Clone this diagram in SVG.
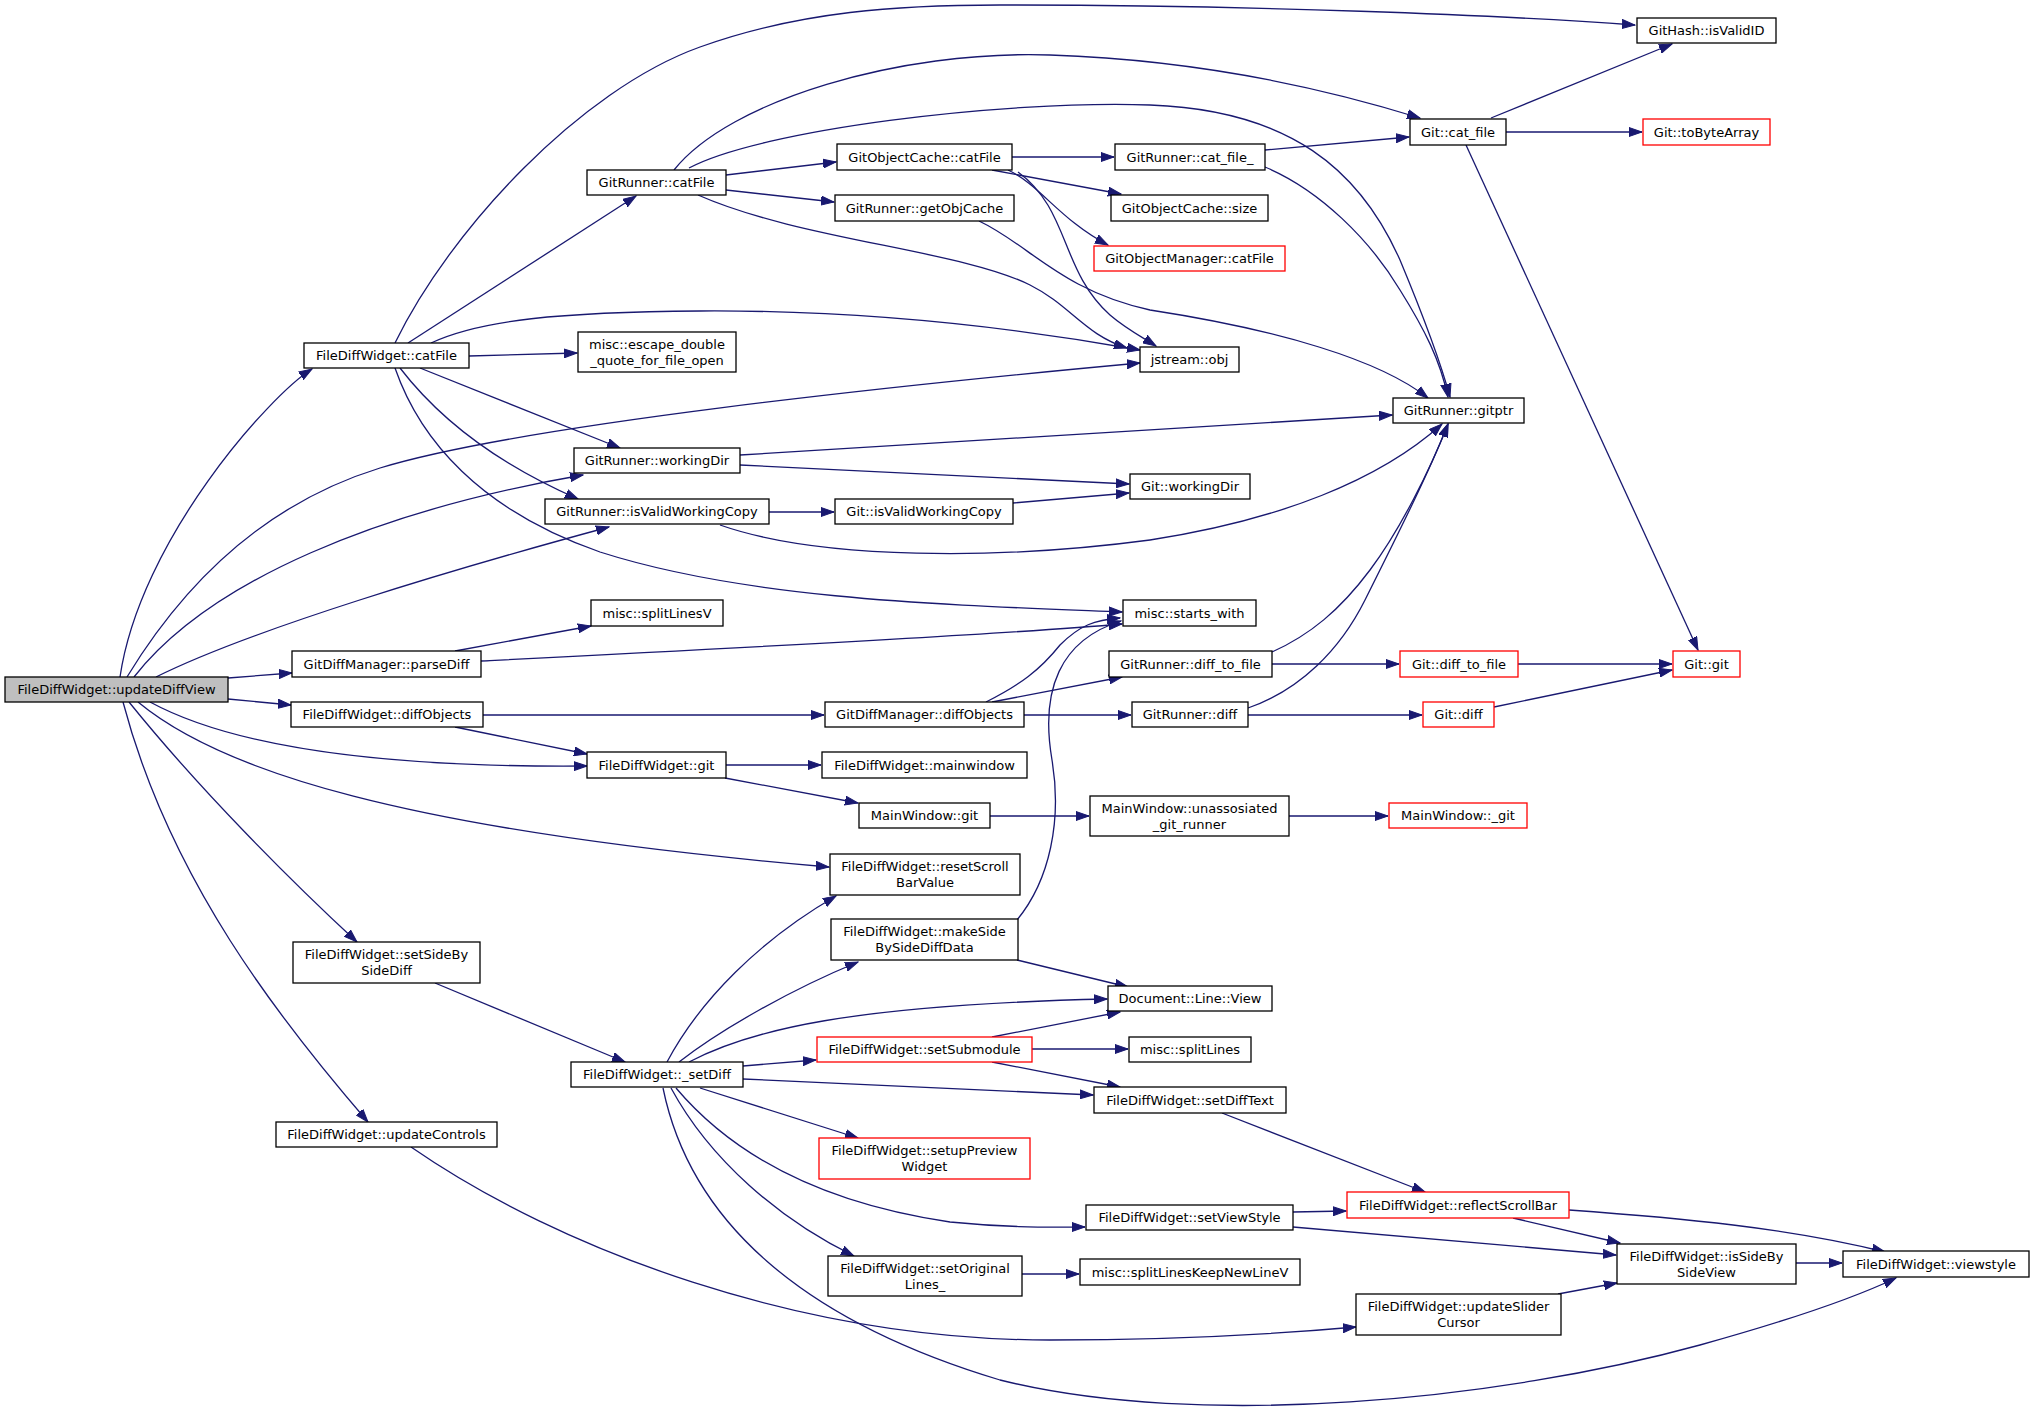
<svg xmlns="http://www.w3.org/2000/svg" width="2035" height="1415" viewBox="0 0 2035 1415">
<style>
.n rect{fill:#fff;stroke:#000;stroke-width:1.3}
.n.red rect{stroke:#f00}
.n.root rect{fill:#bfbfbf}
.n text{font-family:"DejaVu Sans","Liberation Sans",Arial,sans-serif;font-size:13px;text-anchor:middle;fill:#000}
#edges path{fill:none;stroke:#191970;stroke-width:1.3;marker-end:url(#arr)}
</style>
<defs>
<marker id="arr" markerUnits="userSpaceOnUse" markerWidth="14" markerHeight="10" viewBox="0 0 14 10" refX="13" refY="5" orient="auto">
<path d="M0,0.5 L13,5 L0,9.5 z" fill="#191970" stroke="#191970" stroke-width="1"/>
</marker>
</defs>
<rect width="2035" height="1415" fill="#fff"/>
<g id="edges">
<path d="M120,677 C140,540 270,395 312,369"/>
<path d="M127,677 C180,590 260,505 380,468 C520,425 900,385 1140,363"/>
<path d="M134,677 C210,580 380,510 583,475"/>
<path d="M156,677 C250,630 450,570 609,527"/>
<path d="M228,678 L292,673"/>
<path d="M228,699 L291,705"/>
<path d="M150,702 C220,740 350,768 587,766"/>
<path d="M138,702 C220,770 400,830 829,867"/>
<path d="M129,702 C200,790 290,880 357,942"/>
<path d="M123,702 C170,880 280,1020 368,1122"/>
<path d="M411,1147 C560,1250 800,1340 1050,1340 C1200,1340 1300,1332 1356,1327"/>
<path d="M395,343 C450,230 580,90 700,47 C800,11 900,5 1000,5 C1250,5 1500,15 1635,25"/>
<path d="M408,343 L636,196"/>
<path d="M431,343 C480,320 560,312 700,311 C850,310 1000,325 1140,350"/>
<path d="M469,356 L577,353"/>
<path d="M420,368 L620,448"/>
<path d="M400,368 C440,420 500,465 578,499"/>
<path d="M395,368 C420,440 480,510 600,552 C750,600 950,605 1122,612"/>
<path d="M674,170 C730,100 900,50 1050,55 C1200,60 1330,90 1420,118"/>
<path d="M689,168 C760,130 1000,100 1150,105 C1290,110 1360,170 1400,260 C1425,320 1440,360 1450,397"/>
<path d="M726,175 L836,162"/>
<path d="M726,190 L834,202"/>
<path d="M698,195 C800,240 960,250 1030,285 C1070,305 1085,335 1127,348"/>
<path d="M1012,157 L1114,157"/>
<path d="M992,170 L1121,194"/>
<path d="M1008,170 C1040,185 1060,220 1108,245"/>
<path d="M1018,172 C1070,210 1060,270 1110,315 C1125,328 1140,336 1156,346"/>
<path d="M979,221 C1030,245 1060,290 1150,310 C1280,330 1380,360 1428,398"/>
<path d="M1265,150 L1409,137"/>
<path d="M1265,167 C1320,190 1370,240 1400,290 C1425,330 1440,360 1448,397"/>
<path d="M1491,118 L1672,44"/>
<path d="M1506,132 L1642,132"/>
<path d="M1466,145 L1698,650"/>
<path d="M740,455 L1392,415"/>
<path d="M740,465 L1129,484"/>
<path d="M769,512 L834,512"/>
<path d="M720,525 C820,560 1000,560 1150,540 C1280,520 1380,480 1442,424"/>
<path d="M1013,503 L1129,493"/>
<path d="M455,651 L591,626"/>
<path d="M481,661 C700,650 1000,635 1122,624"/>
<path d="M483,715 L824,715"/>
<path d="M455,727 L587,754"/>
<path d="M986,702 C1020,685 1040,670 1060,645 C1080,625 1095,620 1120,618"/>
<path d="M992,702 L1122,677"/>
<path d="M1024,715 L1131,715"/>
<path d="M1272,664 L1399,664"/>
<path d="M1272,652 C1310,635 1340,610 1370,570 C1400,530 1430,470 1448,424"/>
<path d="M1248,715 L1422,715"/>
<path d="M1248,708 C1300,690 1340,650 1365,600 C1400,530 1430,470 1448,424"/>
<path d="M1518,664 L1672,664"/>
<path d="M1494,707 L1672,670"/>
<path d="M726,765 L821,765"/>
<path d="M725,778 L858,803"/>
<path d="M990,816 L1089,816"/>
<path d="M1289,816 L1388,816"/>
<path d="M435,983 L625,1062"/>
<path d="M667,1062 C700,1000 760,940 836,896"/>
<path d="M679,1062 C720,1030 790,990 858,962"/>
<path d="M689,1062 C750,1030 850,1005 1107,999"/>
<path d="M743,1066 L816,1060"/>
<path d="M743,1079 L1093,1095"/>
<path d="M700,1088 L858,1138"/>
<path d="M676,1088 C720,1140 800,1200 950,1222 C1010,1228 1050,1227 1085,1227"/>
<path d="M671,1088 C710,1160 780,1220 854,1256"/>
<path d="M663,1088 C690,1220 800,1320 1000,1380 C1200,1430 1500,1400 1700,1345 C1790,1320 1850,1300 1896,1278"/>
<path d="M1017,960 L1128,987"/>
<path d="M1017,920 C1050,880 1062,820 1052,760 C1040,690 1060,640 1121,621"/>
<path d="M992,1037 L1120,1012"/>
<path d="M1032,1049 L1128,1049"/>
<path d="M992,1062 L1120,1087"/>
<path d="M1222,1113 L1425,1192"/>
<path d="M1293,1212 L1346,1211"/>
<path d="M1293,1227 L1616,1255"/>
<path d="M1022,1274 L1079,1274"/>
<path d="M1513,1218 L1620,1243"/>
<path d="M1569,1210 C1680,1218 1790,1228 1885,1252"/>
<path d="M1558,1294 L1617,1283"/>
<path d="M1796,1263 L1842,1263"/>
</g>
<g id="n_updateDiffView" class="n root"><rect x="5" y="677" width="223" height="25"/><text x="116.5" y="694">FileDiffWidget::updateDiffView</text></g>
<g id="n_fdw_catFile" class="n"><rect x="304" y="343" width="165" height="25"/><text x="386.5" y="360">FileDiffWidget::catFile</text></g>
<g id="n_gr_catFile" class="n"><rect x="587" y="170" width="139" height="25"/><text x="656.5" y="187">GitRunner::catFile</text></g>
<g id="n_escape" class="n"><rect x="578" y="332" width="158" height="40"/><text x="657" y="348.5">misc::escape_double</text><text x="657" y="364.5">_quote_for_file_open</text></g>
<g id="n_gr_workingDir" class="n"><rect x="574" y="448" width="166" height="25"/><text x="657" y="465">GitRunner::workingDir</text></g>
<g id="n_gr_isValid" class="n"><rect x="545" y="499" width="224" height="25"/><text x="657" y="516">GitRunner::isValidWorkingCopy</text></g>
<g id="n_splitLinesV" class="n"><rect x="591" y="600" width="132" height="26"/><text x="657" y="617.5">misc::splitLinesV</text></g>
<g id="n_parseDiff" class="n"><rect x="292" y="651" width="189" height="26"/><text x="386.5" y="668.5">GitDiffManager::parseDiff</text></g>
<g id="n_fdw_diffObjects" class="n"><rect x="291" y="702" width="192" height="25"/><text x="387" y="719">FileDiffWidget::diffObjects</text></g>
<g id="n_fdw_git" class="n"><rect x="587" y="752" width="139" height="26"/><text x="656.5" y="769.5">FileDiffWidget::git</text></g>
<g id="n_resetScroll" class="n"><rect x="830" y="854" width="190" height="41"/><text x="925" y="871">FileDiffWidget::resetScroll</text><text x="925" y="887">BarValue</text></g>
<g id="n_setSideBy" class="n"><rect x="293" y="942" width="187" height="41"/><text x="386.5" y="959">FileDiffWidget::setSideBy</text><text x="386.5" y="975">SideDiff</text></g>
<g id="n_setDiff" class="n"><rect x="571" y="1062" width="172" height="25"/><text x="657" y="1079">FileDiffWidget::_setDiff</text></g>
<g id="n_updateControls" class="n"><rect x="276" y="1122" width="221" height="25"/><text x="386.5" y="1139">FileDiffWidget::updateControls</text></g>
<g id="n_oc_catFile" class="n"><rect x="837" y="144" width="175" height="26"/><text x="924.5" y="161.5">GitObjectCache::catFile</text></g>
<g id="n_getObjCache" class="n"><rect x="835" y="195" width="179" height="26"/><text x="924.5" y="212.5">GitRunner::getObjCache</text></g>
<g id="n_cat_file_" class="n"><rect x="1115" y="144" width="150" height="26"/><text x="1190" y="161.5">GitRunner::cat_file_</text></g>
<g id="n_oc_size" class="n"><rect x="1111" y="195" width="157" height="26"/><text x="1189.5" y="212.5">GitObjectCache::size</text></g>
<g id="n_om_catFile" class="n red"><rect x="1094" y="246" width="191" height="25"/><text x="1189.5" y="263">GitObjectManager::catFile</text></g>
<g id="n_jstream" class="n"><rect x="1140" y="347" width="99" height="25"/><text x="1189.5" y="364">jstream::obj</text></g>
<g id="n_isValidID" class="n"><rect x="1637" y="18" width="139" height="25"/><text x="1706.5" y="35">GitHash::isValidID</text></g>
<g id="n_git_cat_file" class="n"><rect x="1410" y="119" width="96" height="26"/><text x="1458" y="136.5">Git::cat_file</text></g>
<g id="n_toByteArray" class="n red"><rect x="1643" y="119" width="127" height="26"/><text x="1706.5" y="136.5">Git::toByteArray</text></g>
<g id="n_gitptr" class="n"><rect x="1393" y="398" width="131" height="25"/><text x="1458.5" y="415">GitRunner::gitptr</text></g>
<g id="n_git_workingDir" class="n"><rect x="1130" y="474" width="120" height="25"/><text x="1190" y="491">Git::workingDir</text></g>
<g id="n_git_isValid" class="n"><rect x="835" y="499" width="178" height="25"/><text x="924" y="516">Git::isValidWorkingCopy</text></g>
<g id="n_starts_with" class="n"><rect x="1123" y="600" width="133" height="26"/><text x="1189.5" y="617.5">misc::starts_with</text></g>
<g id="n_diff_to_file" class="n"><rect x="1109" y="651" width="163" height="26"/><text x="1190.5" y="668.5">GitRunner::diff_to_file</text></g>
<g id="n_gdm_diffObjects" class="n"><rect x="825" y="702" width="199" height="25"/><text x="924.5" y="719">GitDiffManager::diffObjects</text></g>
<g id="n_gr_diff" class="n"><rect x="1132" y="702" width="116" height="25"/><text x="1190" y="719">GitRunner::diff</text></g>
<g id="n_mainwindow" class="n"><rect x="822" y="752" width="205" height="26"/><text x="924.5" y="769.5">FileDiffWidget::mainwindow</text></g>
<g id="n_mw_git" class="n"><rect x="859" y="803" width="131" height="25"/><text x="924.5" y="820">MainWindow::git</text></g>
<g id="n_unassoc" class="n"><rect x="1090" y="796" width="199" height="40"/><text x="1189.5" y="812.5">MainWindow::unassosiated</text><text x="1189.5" y="828.5">_git_runner</text></g>
<g id="n_makeSide" class="n"><rect x="831" y="919" width="187" height="41"/><text x="924.5" y="936">FileDiffWidget::makeSide</text><text x="924.5" y="952">BySideDiffData</text></g>
<g id="n_git_diff_to_file" class="n red"><rect x="1400" y="651" width="118" height="26"/><text x="1459" y="668.5">Git::diff_to_file</text></g>
<g id="n_git_git" class="n red"><rect x="1673" y="651" width="67" height="26"/><text x="1706.5" y="668.5">Git::git</text></g>
<g id="n_git_diff" class="n red"><rect x="1423" y="702" width="71" height="25"/><text x="1458.5" y="719">Git::diff</text></g>
<g id="n_mw__git" class="n red"><rect x="1389" y="803" width="138" height="25"/><text x="1458" y="820">MainWindow::_git</text></g>
<g id="n_dlv" class="n"><rect x="1108" y="986" width="164" height="25"/><text x="1190" y="1003">Document::Line::View</text></g>
<g id="n_setSubmodule" class="n red"><rect x="817" y="1037" width="215" height="25"/><text x="924.5" y="1054">FileDiffWidget::setSubmodule</text></g>
<g id="n_splitLines" class="n"><rect x="1129" y="1037" width="122" height="25"/><text x="1190" y="1054">misc::splitLines</text></g>
<g id="n_setDiffText" class="n"><rect x="1094" y="1087" width="192" height="26"/><text x="1190" y="1104.5">FileDiffWidget::setDiffText</text></g>
<g id="n_setupPreview" class="n red"><rect x="819" y="1138" width="211" height="41"/><text x="924.5" y="1155">FileDiffWidget::setupPreview</text><text x="924.5" y="1171">Widget</text></g>
<g id="n_setViewStyle" class="n"><rect x="1086" y="1205" width="207" height="25"/><text x="1189.5" y="1222">FileDiffWidget::setViewStyle</text></g>
<g id="n_setOriginal" class="n"><rect x="828" y="1256" width="194" height="40"/><text x="925" y="1272.5">FileDiffWidget::setOriginal</text><text x="925" y="1288.5">Lines_</text></g>
<g id="n_splitLinesKeep" class="n"><rect x="1080" y="1259" width="220" height="26"/><text x="1190" y="1276.5">misc::splitLinesKeepNewLineV</text></g>
<g id="n_reflect" class="n red"><rect x="1347" y="1192" width="222" height="26"/><text x="1458" y="1209.5">FileDiffWidget::reflectScrollBar</text></g>
<g id="n_isSideBy" class="n"><rect x="1617" y="1244" width="179" height="40"/><text x="1706.5" y="1260.5">FileDiffWidget::isSideBy</text><text x="1706.5" y="1276.5">SideView</text></g>
<g id="n_viewstyle" class="n"><rect x="1843" y="1251" width="186" height="26"/><text x="1936" y="1268.5">FileDiffWidget::viewstyle</text></g>
<g id="n_updateSlider" class="n"><rect x="1356" y="1294" width="205" height="41"/><text x="1458.5" y="1311">FileDiffWidget::updateSlider</text><text x="1458.5" y="1327">Cursor</text></g>
</svg>
